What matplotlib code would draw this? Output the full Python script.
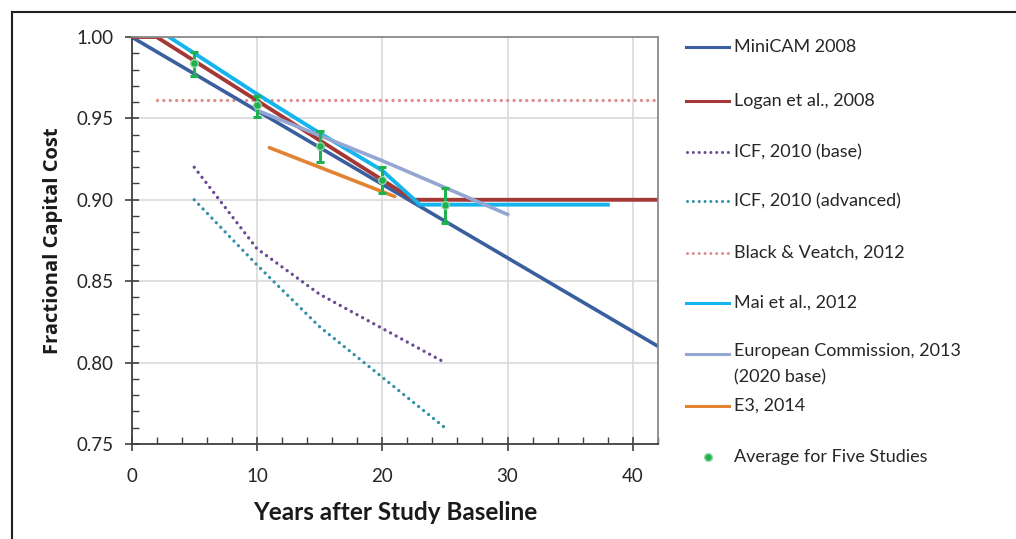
import matplotlib
matplotlib.use("Agg")
import matplotlib.pyplot as plt
from matplotlib.lines import Line2D
from matplotlib.ticker import MultipleLocator

plt.rcParams["font.family"] = ["Lato", "DejaVu Sans"]

# series data (years after baseline, fractional capital cost)
minicam_x = [0, 42]
minicam_y = [1.0, 0.81]
logan_x = [0, 2, 22.5, 42]
logan_y = [1.0, 1.0, 0.90, 0.90]
icf_base_x = [5, 10, 15, 20, 25]
icf_base_y = [0.92, 0.87, 0.842, 0.821, 0.80]
icf_adv_x = [5, 10, 15, 20, 25]
icf_adv_y = [0.90, 0.86, 0.822, 0.791, 0.76]
bv_x = [2, 42]
bv_y = [0.961, 0.961]
mai_x = [3, 10, 15, 20, 23, 38]
mai_y = [1.0, 0.965, 0.941, 0.918, 0.897, 0.897]
ec_x = [10, 20, 30]
ec_y = [0.955, 0.924, 0.891]
e3_x = [11, 15, 20, 21]
e3_y = [0.932, 0.920, 0.905, 0.902]
avg_x = [5, 10, 15, 20, 25]
avg_y = [0.984, 0.958, 0.933, 0.912, 0.897]
avg_lo = [0.976, 0.951, 0.923, 0.904, 0.886]
avg_hi = [0.991, 0.964, 0.942, 0.920, 0.907]

labels = [
    "MiniCAM 2008",
    "Logan et al., 2008",
    "ICF, 2010 (base)",
    "ICF, 2010 (advanced)",
    "Black & Veatch, 2012",
    "Mai et al., 2012",
    "European Commission, 2013\n(2020 base)",
    "E3, 2014",
    "Average for Five Studies",
]

c_minicam = "#3a5f9e"
c_logan = "#a33834"
c_icf_base = "#6a4a92"
c_icf_adv = "#3591a8"
c_bv = "#de8f8c"
c_mai = "#14b4ee"
c_ec = "#93a7d2"
c_e3 = "#e28332"
c_avg = "#1fb050"

fig = plt.figure(figsize=(10.16, 5.39), dpi=100, facecolor="white")
ax = fig.add_axes([0.1295, 0.1763, 0.5181, 0.7551])

dot = (0, (0.01, 1.9))
dot_kw = dict(lw=2.4, linestyle=dot, dash_capstyle="round")
ax.plot(bv_x, bv_y, color=c_bv, **dot_kw)
ax.plot(icf_base_x, icf_base_y, color=c_icf_base, **dot_kw)
ax.plot(icf_adv_x, icf_adv_y, color=c_icf_adv, **dot_kw)
ax.plot(minicam_x, minicam_y, color=c_minicam, lw=2.6)
ax.plot(logan_x, logan_y, color=c_logan, lw=2.8)
ax.plot(e3_x, e3_y, color=c_e3, lw=2.6, solid_capstyle="round")
ax.plot(mai_x, mai_y, color=c_mai, lw=2.8)
ax.plot(ec_x, ec_y, color=c_ec, lw=2.6)
yerr = [[m - lo for m, lo in zip(avg_y, avg_lo)], [hi - m for m, hi in zip(avg_y, avg_hi)]]
ax.errorbar(avg_x, avg_y, yerr=yerr, fmt="o", color=c_avg, ms=5.5, mfc=c_avg, mec="#8fd6a0",
            elinewidth=2.2, capsize=3, capthick=2.2, zorder=5)

ax.set_xlim(0, 42)
ax.set_ylim(0.75, 1.0)
ax.xaxis.set_major_locator(MultipleLocator(10))
ax.xaxis.set_minor_locator(MultipleLocator(2))
ax.yaxis.set_major_locator(MultipleLocator(0.05))
ax.yaxis.set_minor_locator(MultipleLocator(0.01))
ax.yaxis.set_major_formatter(plt.FormatStrFormatter("%.2f"))
ax.grid(True, which="major", color="#d9d9d9", lw=1.2, zorder=0)
ax.set_axisbelow(True)
ax.tick_params(which="major", direction="inout", length=10, width=1.2, color="#404040",
               labelsize=13.5, labelcolor="#262626")
ax.tick_params(axis="x", which="major", pad=12)
ax.tick_params(axis="y", which="major", pad=8)
ax.tick_params(which="minor", direction="in", length=5, width=1.0, color="#404040")
for side in ["left", "bottom"]:
    ax.spines[side].set_color("#404040")
    ax.spines[side].set_linewidth(1.3)
for side in ["top", "right"]:
    ax.spines[side].set_color("#8a8a8a")
    ax.spines[side].set_linewidth(1.3)

ax.set_xlabel("Years after Study Baseline", fontsize=17.5, fontweight="bold", labelpad=12,
              color="#1a1a1a")
ax.set_ylabel("Fractional Capital Cost", fontsize=14.5, fontweight="bold", labelpad=10,
              family=["Open Sans", "DejaVu Sans"], color="#1a1a1a")

# manual legend in figure pixels
W, H = 1016, 539
leg_y = [47, 101, 152, 201, 253, 303, 354, 406, 457]
leg_style = [
    (c_minicam, "-"), (c_logan, "-"), (c_icf_base, dot), (c_icf_adv, dot), (c_bv, dot),
    (c_mai, "-"), (c_ec, "-"), (c_e3, "-"), (c_avg, None),
]
for (col, ls), yy, lab in zip(leg_style, leg_y, labels):
    fy = 1 - yy / H
    if ls is None:
        fig.add_artist(Line2D([708 / W], [fy], marker="o", ms=5.5, color=col, mec="#8fd6a0"))
    elif ls == "-":
        fig.add_artist(Line2D([686 / W, 729 / W], [fy, fy], color=col, lw=2.2))
    else:
        fig.add_artist(Line2D([687 / W, 729 / W], [fy, fy], color=col, lw=2.2,
                              linestyle=ls, dash_capstyle="round"))
    if "\n" in lab:
        fig.text(734 / W, fy + 11 / H, lab, fontsize=13, va="top", ha="left",
                 color="#262626", linespacing=1.75)
    else:
        fig.text(734 / W, fy, lab, fontsize=13, va="center", ha="left", color="#262626")

# outer frame
fig.add_artist(Line2D([12 / W, 1.0], [1 - 12 / H, 1 - 12 / H], color="#202020", lw=1.5))
fig.add_artist(Line2D([12 / W, 12 / W], [1 - 12 / H, 0], color="#202020", lw=1.5))

fig.savefig("out.png", dpi=100)
